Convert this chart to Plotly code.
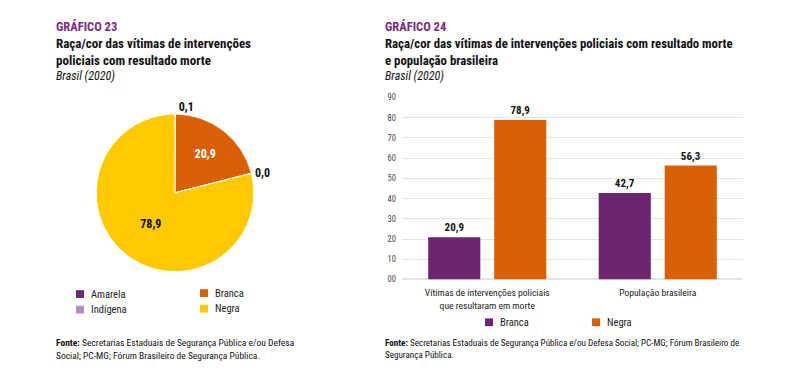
import plotly.graph_objects as go

# ---------------- data ----------------
pie_labels = ["Amarela", "Branca", "Indígena", "Negra"]
pie_values = [0.1, 20.9, 0.0, 78.9]
pie_colors = ["#6C2570", "#DA6005", "#B58CC4", "#FFC900"]

bar_categories = ["Vítimas de intervenções policiais<br>que resultaram em morte", "População brasileira"]
bar_branca = [20.9, 42.7]
bar_negra = [78.9, 56.3]
bar_series_names = ["Branca", "Negra"]
bar_colors = ["#6C2570", "#DA6005"]

y_tickvals = [0, 10, 20, 30, 40, 50, 60, 70, 80, 90]
y_ticktext = ["00", "10", "20", "30", "40", "50", "60", "70", "80", "90"]

FONT = "Roboto Condensed, Roboto, Arial, sans-serif"
W, H = 798, 374

def px(x):
    return x / W

def py(y):
    return 1 - y / H

fig = go.Figure()

# ---------------- pie ----------------
cx, cy, r = 175, 193, 81
fig.add_trace(go.Pie(
    labels=pie_labels,
    values=pie_values,
    sort=False,
    direction="clockwise",
    rotation=0,
    marker=dict(colors=pie_colors, line=dict(color="white", width=1)),
    texttemplate="<b>%{value:.1f}</b>",
    textposition=["outside", "inside", "outside", "inside"],
    insidetextfont=dict(color=["#111", "white", "#111", "#111"], size=12, family=FONT),
    outsidetextfont=dict(color="#111", size=12, family=FONT),
    insidetextorientation="horizontal",
    domain=dict(x=[px(cx - r), px(cx + r)], y=[py(cy + r), py(cy - r)]),
    showlegend=False,
    hoverinfo="label+value",
))

# ---------------- bars ----------------
for name, vals, col in zip(bar_series_names, [bar_branca, bar_negra], bar_colors):
    fig.add_trace(go.Bar(
        x=bar_categories, y=vals, name=name,
        marker=dict(color=col, line=dict(width=0)),
        texttemplate="<b>%{y:.1f}</b>", textposition="outside",
        textfont=dict(size=11, color="#111", family=FONT),
        cliponaxis=False, showlegend=False,
        xaxis="x", yaxis="y",
    ))

fig.update_layout(
    width=W, height=H,
    margin=dict(l=0, r=0, t=0, b=0),
    paper_bgcolor="white", plot_bgcolor="white",
    separators=",.",
    font=dict(family=FONT, color="#222"),
    barmode="group",
    bargap=0.226, bargroupgap=0.21,
    xaxis=dict(domain=[px(402), px(743)], showgrid=False, showline=False, zeroline=False,
               ticks="", ticklabelstandoff=6, tickfont=dict(size=9.6, color="#222", family=FONT)),
    yaxis=dict(domain=[py(282), py(95)], range=[0, 90], tickvals=y_tickvals, ticktext=y_ticktext,
               showgrid=True, gridcolor="#e3e3e3", gridwidth=1, zeroline=True, zerolinecolor="#e3e3e3",
               showline=False, ticks="", ticklabelstandoff=5, tickfont=dict(size=8.5, color="#444", family=FONT)),
    showlegend=False,
)

shapes = []
annos = []

def legend_items(items, positions):
    for (lx, ly), (lab, col) in zip(positions, items):
        shapes.append(dict(type="rect", xref="paper", yref="paper",
                           x0=px(lx), x1=px(lx + 8), y0=py(ly + 4), y1=py(ly - 4),
                           fillcolor=col, line=dict(width=0)))
        annos.append(dict(text=lab, xref="paper", yref="paper", x=px(lx + 13), y=py(ly),
                          xanchor="left", yanchor="middle", showarrow=False,
                          font=dict(size=10.5, color="#222", family=FONT)))

# pie legend (two columns)
legend_items(list(zip(pie_labels, pie_colors)), [(76, 297), (200, 296), (76, 313), (200, 312)])
# bar legend
legend_items(list(zip(bar_series_names, bar_colors)), [(485, 326), (592, 326)])

# ---------------- titles ----------------
def txt(t, x, y, size, color="#111", bold=False, italic=False):
    if bold:
        t = "<b>" + t + "</b>"
    if italic:
        t = "<i>" + t + "</i>"
    annos.append(dict(text=t, xref="paper", yref="paper", x=px(x), y=py(y), xanchor="left",
                      yanchor="middle", showarrow=False, align="left",
                      font=dict(size=size, color=color, family=FONT)))

PURPLE = "#7A2B82"
txt("GRÁFICO 23", 54, 22, 12.5, PURPLE, bold=True)
txt("Raça/cor das vítimas de intervenções", 54, 40, 13, bold=True)
txt("policiais com resultado morte", 54, 57, 13, bold=True)
txt("Brasil (2020)", 54, 73, 12, italic=True)

txt("GRÁFICO 24", 383, 22, 12.5, PURPLE, bold=True)
txt("Raça/cor das vítimas de intervenções policiais com resultado morte", 383, 40, 12.8, bold=True)
txt("e população brasileira", 383, 57, 12.8, bold=True)
txt("Brasil (2020)", 383, 73, 12, italic=True)

txt("<b>Fonte:</b> Secretarias Estaduais de Segurança Pública e/ou Defesa", 54, 347, 9.5)
txt("Social; PC-MG; Fórum Brasileiro de Segurança Pública.", 54, 360, 9.5)
txt("<b>Fonte:</b> Secretarias Estaduais de Segurança Pública e/ou Defesa Social; PC-MG; Fórum Brasileiro de", 383, 347, 9.1)
txt("Segurança Pública.", 383, 360, 9.1)

fig.update_layout(shapes=shapes, annotations=annos)
fig.write_html("out.html", config={"displayModeBar": False},
               post_script="document.body.style.margin='0';")
